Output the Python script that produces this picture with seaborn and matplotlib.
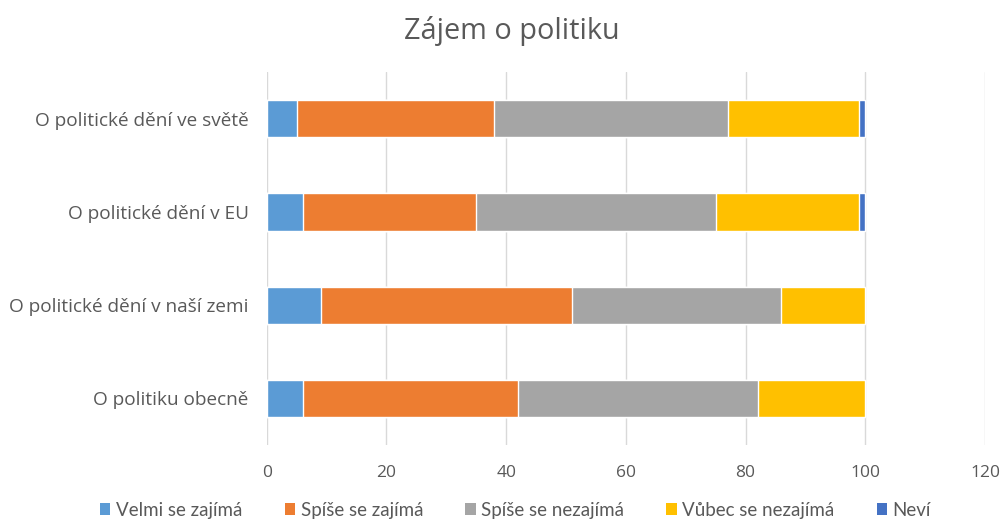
import numpy as np
import pandas as pd
import matplotlib
matplotlib.use("Agg")
import matplotlib.pyplot as plt
import seaborn as sns
from matplotlib.patches import Patch

# --- Daten ---
kategorien = ["O politické dění ve světě", "O politické dění v EU",
              "O politické dění v naší zemi", "O politiku obecně"]
serien = ["Velmi se zajímá", "Spíše se zajímá", "Spíše se nezajímá",
          "Vůbec se nezajímá", "Neví"]
velmi = [5, 6, 9, 6]
spise_ano = [33, 29, 42, 36]
spise_ne = [39, 40, 35, 40]
vubec = [22, 24, 14, 18]
nevi = [1, 1, 0, 0]
farben = ["#5B9BD5", "#ED7D31", "#A5A5A5", "#FFC000", "#4472C4"]

df = pd.DataFrame({"kategorie": kategorien, serien[0]: velmi, serien[1]: spise_ano,
                   serien[2]: spise_ne, serien[3]: vubec, serien[4]: nevi})
# kumulierte Werte fuer gestapelte Balken
kum = df[serien].cumsum(axis=1)
kum["kategorie"] = df["kategorie"]

sns.set_theme(style="white")
plt.rcParams["font.family"] = ["Open Sans", "DejaVu Sans"]

fig = plt.figure(figsize=(10.03, 5.23), dpi=100)
ax = fig.add_axes([0.266, 0.149, 0.716, 0.713])

# von hinten nach vorne zeichnen: groesste Summe zuerst
for s, c in reversed(list(zip(serien, farben))):
    sns.barplot(data=kum, x=s, y="kategorie", orient="h", color=c,
                width=0.4, ax=ax, saturation=1, errorbar=None)

ax.set_xlim(0, 120)
ax.set_xticks(range(0, 121, 20))
ax.set_ylim(3.5, -0.5)
ax.set_xlabel("")
ax.set_ylabel("")
ax.grid(axis="x", color="#D9D9D9", linewidth=1)
ax.set_axisbelow(True)
for sp in ax.spines.values():
    sp.set_visible(False)
ax.tick_params(axis="both", length=0, colors="#595959")
ax.tick_params(axis="x", pad=14, labelsize=12.5)
ax.tick_params(axis="y", pad=13, labelsize=13.7)

fig.text(0.51, 0.94, "Zájem o politiku", ha="center", va="center",
         fontsize=20.8, color="#595959")

handles = [Patch(facecolor=c, edgecolor="none") for c in farben]
fig.legend(handles, serien, loc="center", bbox_to_anchor=(0.514, 0.024), ncol=5,
           frameon=False, labelcolor="#595959",
           prop={"family": ["Lato", "DejaVu Sans"], "size": 13.5},
           handlelength=0.55, handleheight=0.6, handletextpad=0.3, columnspacing=2.25)

fig.savefig("out.png", dpi=100)
